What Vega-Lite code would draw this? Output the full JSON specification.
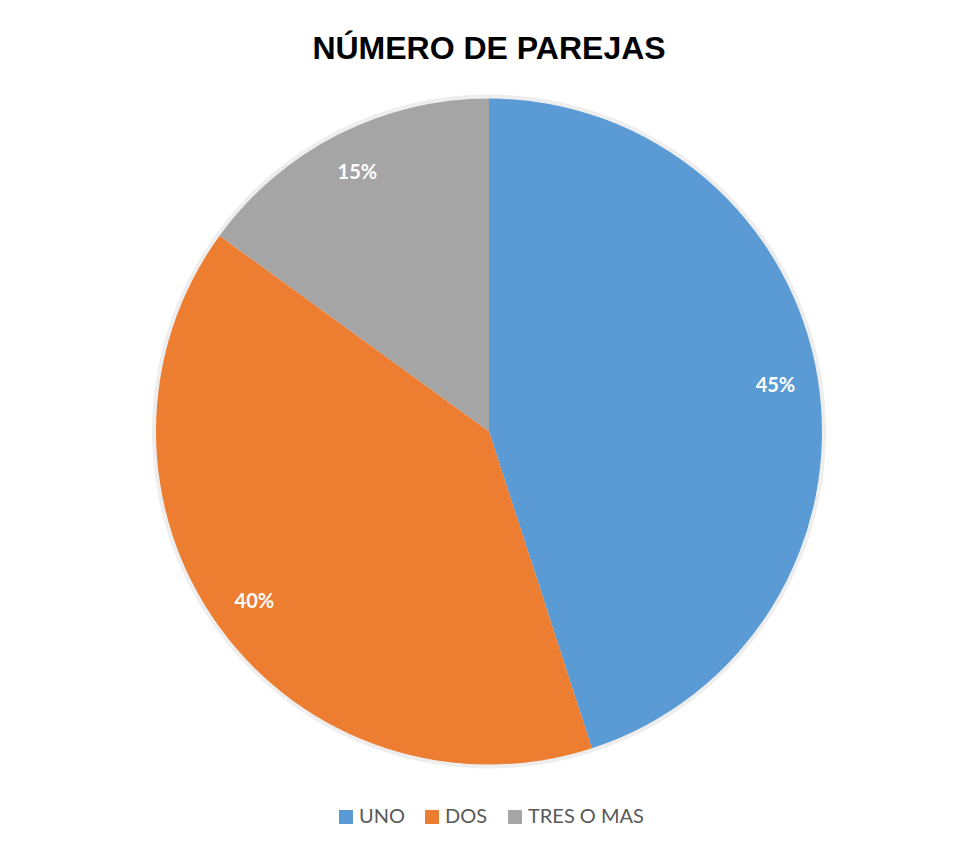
{
  "$schema": "https://vega.github.io/schema/vega-lite/v6.json",
  "width": 940,
  "height": 731,
  "padding": {"left": 19, "top": 33, "right": 0, "bottom": 0},
  "background": "white",
  "title": {
    "text": "NÚMERO DE PAREJAS",
    "font": "Liberation Sans",
    "fontSize": 32,
    "fontWeight": "bold",
    "color": "#000000",
    "anchor": "middle",
    "offset": 0
  },
  "data": {
    "values": [
      {"categoria": "UNO", "valor": 0.45, "orden": 1},
      {"categoria": "DOS", "valor": 0.40, "orden": 2},
      {"categoria": "TRES O MAS", "valor": 0.15, "orden": 3}
    ]
  },
  "encoding": {
    "theta": {"field": "valor", "type": "quantitative", "stack": true},
    "order": {"field": "orden", "type": "quantitative"}
  },
  "layer": [
    {
      "mark": {"type": "arc", "radius": 337, "strokeWidth": 0, "color": "#eeeeee"}
    },
    {
      "mark": {"type": "arc", "radius": 333, "strokeWidth": 0},
      "encoding": {
        "color": {
          "field": "categoria",
          "type": "nominal",
          "scale": {"domain": ["UNO", "DOS", "TRES O MAS"], "range": ["#5B9BD5", "#ED7D31", "#A5A5A5"]},
          "legend": {
            "orient": "none",
            "legendX": 317,
            "legendY": 741,
            "direction": "horizontal",
            "title": null,
            "symbolType": "square",
            "symbolSize": 196,
            "symbolStrokeWidth": 0,
            "labelFont": "Lato",
            "labelFontSize": 20,
            "labelColor": "#595959",
            "labelOffset": 3,
            "columnPadding": 17
          }
        }
      }
    },
    {
      "mark": {"type": "text", "radius": 290, "font": "Lato", "fontSize": 20, "fontWeight": "bold", "color": "white"},
      "encoding": {
        "text": {"field": "valor", "type": "quantitative", "format": ".0%"}
      }
    }
  ],
  "config": {"view": {"stroke": null}}
}
